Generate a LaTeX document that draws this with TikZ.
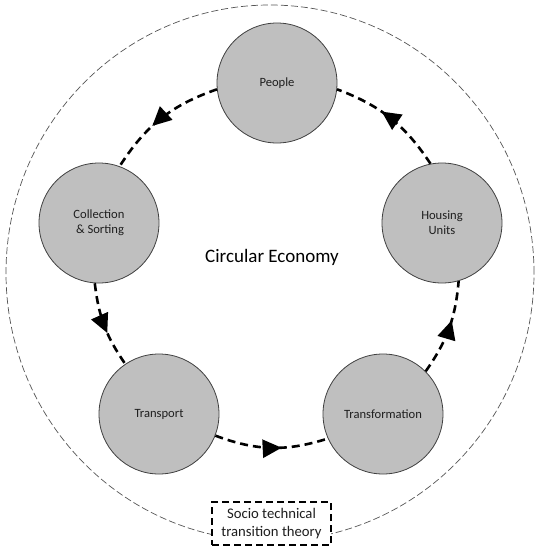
\documentclass[tikz,border=0pt]{standalone}
\usepackage{fontspec}
\setmainfont{Carlito}
\usetikzlibrary{arrows.meta,decorations.markings}
\definecolor{cfill}{HTML}{BFBFBF}
\definecolor{cedge}{HTML}{404040}
\definecolor{ctext}{HTML}{1F1F1F}
\definecolor{couter}{HTML}{555555}
\begin{document}
\begin{tikzpicture}[x=1pt,y=-1pt,
  stage/.style={circle, draw=cedge, line width=0.8pt, fill=cfill, minimum size=120pt, inner sep=0pt, align=center, font=\fontsize{12.6}{15.3}\selectfont, text=ctext},
  flow/.style={line width=2.6pt, dash pattern=on 8pt off 5pt, postaction={decorate},
    decoration={markings, mark=at position 0.59 with {\arrow{Triangle[length=19pt,width=18pt]}}}},
  outer/.style={draw=couter, line width=0.7pt, dash pattern=on 7pt off 3pt},
  theorybox/.style={draw=black, line width=1.9pt, dash pattern=on 7pt off 4pt, fill=white, minimum width=119pt, minimum height=43pt, align=center, inner sep=2pt, font=\fontsize{14.7}{17.5}\selectfont, text=ctext},
  title/.style={font=\fontsize{19}{22}\selectfont, text=black}]
\useasboundingbox (0,0) rectangle (538,550);
\fill[white] (0,0) rectangle (538,550);
\draw[outer] (270,273) ellipse [x radius=264pt, y radius=268pt];

\node[stage] (people) at (277,83) {People};
\node[stage] (housing) at (442,223) {Housing\\Units};
\node[stage] (transf) at (383,414) {Transformation};
\node[stage] (transp) at (159,414) {Transport};
\node[stage] (coll) at (99,223) {Collection\\\,\& Sorting};

\node[title] (ce) at (272,257) {Circular Economy};

\draw[flow] (people.186) to[bend right=19] (coll.70);
\draw[flow] (coll.266) to[bend right=14] (transp.124);
\draw[flow] (transp.339) to[bend right=19] (transf.204);
\draw[flow] (transf.45) to[bend right=15] (housing.286);
\draw[flow] (housing.101) to[bend right=18] (people.354);

\node[theorybox] (theory) at (271.5,523.5) {Socio technical\\transition theory};
\end{tikzpicture}
\end{document}
